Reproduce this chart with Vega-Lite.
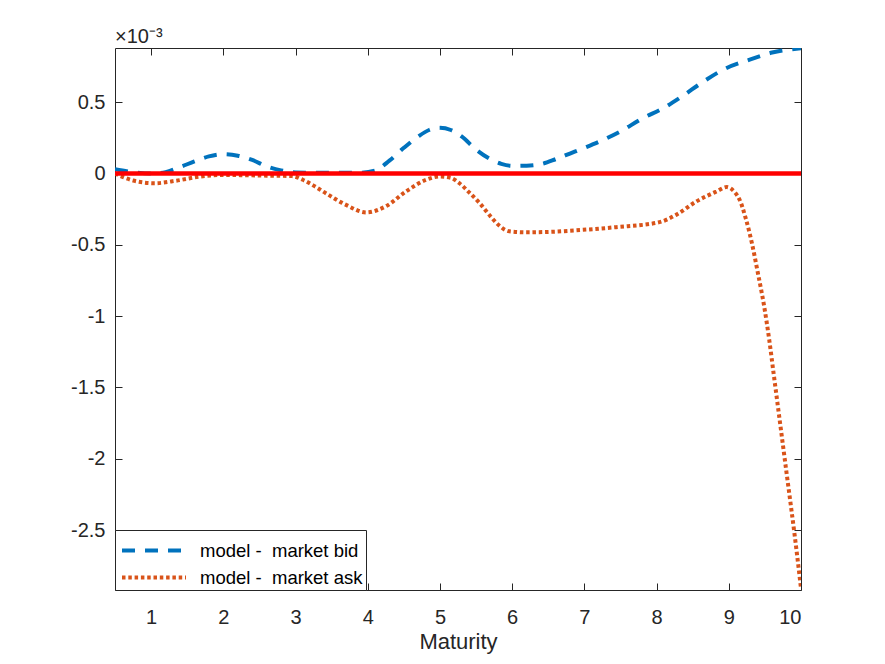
{
  "$schema": "https://vega.github.io/schema/vega-lite/v6.json",
  "width": 686,
  "height": 542,
  "autosize": {"type": "none"},
  "padding": {"left": 115, "top": 48, "right": 84, "bottom": 74},
  "background": "white",
  "title": {
    "text": "×10⁻³",
    "anchor": "start",
    "frame": "group",
    "fontSize": 20,
    "fontWeight": "normal",
    "font": "Liberation Sans",
    "color": "#262626",
    "baseline": "alphabetic",
    "offset": -15
  },
  "datasets": {
    "curves": [
      {"maturity": 0.5, "diff": 0.03, "series": "model -\u00a0 market bid"},
      {"maturity": 0.75, "diff": 0.01, "series": "model -\u00a0 market bid"},
      {"maturity": 1.0, "diff": 0.0, "series": "model -\u00a0 market bid"},
      {"maturity": 1.2, "diff": 0.01, "series": "model -\u00a0 market bid"},
      {"maturity": 1.4, "diff": 0.045, "series": "model -\u00a0 market bid"},
      {"maturity": 1.6, "diff": 0.085, "series": "model -\u00a0 market bid"},
      {"maturity": 1.8, "diff": 0.12, "series": "model -\u00a0 market bid"},
      {"maturity": 2.0, "diff": 0.136, "series": "model -\u00a0 market bid"},
      {"maturity": 2.2, "diff": 0.125, "series": "model -\u00a0 market bid"},
      {"maturity": 2.4, "diff": 0.095, "series": "model -\u00a0 market bid"},
      {"maturity": 2.6, "diff": 0.05, "series": "model -\u00a0 market bid"},
      {"maturity": 2.8, "diff": 0.022, "series": "model -\u00a0 market bid"},
      {"maturity": 3.0, "diff": 0.008, "series": "model -\u00a0 market bid"},
      {"maturity": 3.3, "diff": 0.005, "series": "model -\u00a0 market bid"},
      {"maturity": 3.6, "diff": 0.005, "series": "model -\u00a0 market bid"},
      {"maturity": 3.9, "diff": 0.006, "series": "model -\u00a0 market bid"},
      {"maturity": 4.1, "diff": 0.02, "series": "model -\u00a0 market bid"},
      {"maturity": 4.3, "diff": 0.09, "series": "model -\u00a0 market bid"},
      {"maturity": 4.5, "diff": 0.18, "series": "model -\u00a0 market bid"},
      {"maturity": 4.7, "diff": 0.26, "series": "model -\u00a0 market bid"},
      {"maturity": 4.85, "diff": 0.305, "series": "model -\u00a0 market bid"},
      {"maturity": 5.0, "diff": 0.32, "series": "model -\u00a0 market bid"},
      {"maturity": 5.15, "diff": 0.305, "series": "model -\u00a0 market bid"},
      {"maturity": 5.3, "diff": 0.26, "series": "model -\u00a0 market bid"},
      {"maturity": 5.5, "diff": 0.168, "series": "model -\u00a0 market bid"},
      {"maturity": 5.7, "diff": 0.1, "series": "model -\u00a0 market bid"},
      {"maturity": 5.85, "diff": 0.068, "series": "model -\u00a0 market bid"},
      {"maturity": 6.0, "diff": 0.054, "series": "model -\u00a0 market bid"},
      {"maturity": 6.2, "diff": 0.055, "series": "model -\u00a0 market bid"},
      {"maturity": 6.4, "diff": 0.066, "series": "model -\u00a0 market bid"},
      {"maturity": 6.6, "diff": 0.1, "series": "model -\u00a0 market bid"},
      {"maturity": 6.8, "diff": 0.14, "series": "model -\u00a0 market bid"},
      {"maturity": 7.0, "diff": 0.18, "series": "model -\u00a0 market bid"},
      {"maturity": 7.2, "diff": 0.222, "series": "model -\u00a0 market bid"},
      {"maturity": 7.5, "diff": 0.295, "series": "model -\u00a0 market bid"},
      {"maturity": 7.8, "diff": 0.385, "series": "model -\u00a0 market bid"},
      {"maturity": 8.1, "diff": 0.46, "series": "model -\u00a0 market bid"},
      {"maturity": 8.35, "diff": 0.54, "series": "model -\u00a0 market bid"},
      {"maturity": 8.65, "diff": 0.645, "series": "model -\u00a0 market bid"},
      {"maturity": 8.95, "diff": 0.735, "series": "model -\u00a0 market bid"},
      {"maturity": 9.3, "diff": 0.8, "series": "model -\u00a0 market bid"},
      {"maturity": 9.6, "diff": 0.848, "series": "model -\u00a0 market bid"},
      {"maturity": 10.0, "diff": 0.878, "series": "model -\u00a0 market bid"},
      {"maturity": 0.5, "diff": 0.0, "series": "model -\u00a0 market ask"},
      {"maturity": 0.75, "diff": -0.049, "series": "model -\u00a0 market ask"},
      {"maturity": 1.05, "diff": -0.068, "series": "model -\u00a0 market ask"},
      {"maturity": 1.35, "diff": -0.05, "series": "model -\u00a0 market ask"},
      {"maturity": 1.67, "diff": -0.022, "series": "model -\u00a0 market ask"},
      {"maturity": 2.0, "diff": -0.01, "series": "model -\u00a0 market ask"},
      {"maturity": 2.3, "diff": -0.012, "series": "model -\u00a0 market ask"},
      {"maturity": 2.6, "diff": -0.015, "series": "model -\u00a0 market ask"},
      {"maturity": 2.95, "diff": -0.018, "series": "model -\u00a0 market ask"},
      {"maturity": 3.1, "diff": -0.044, "series": "model -\u00a0 market ask"},
      {"maturity": 3.25, "diff": -0.085, "series": "model -\u00a0 market ask"},
      {"maturity": 3.42, "diff": -0.138, "series": "model -\u00a0 market ask"},
      {"maturity": 3.7, "diff": -0.22, "series": "model -\u00a0 market ask"},
      {"maturity": 3.98, "diff": -0.273, "series": "model -\u00a0 market ask"},
      {"maturity": 4.25, "diff": -0.23, "series": "model -\u00a0 market ask"},
      {"maturity": 4.53, "diff": -0.126, "series": "model -\u00a0 market ask"},
      {"maturity": 4.81, "diff": -0.044, "series": "model -\u00a0 market ask"},
      {"maturity": 5.0, "diff": -0.021, "series": "model -\u00a0 market ask"},
      {"maturity": 5.15, "diff": -0.03, "series": "model -\u00a0 market ask"},
      {"maturity": 5.27, "diff": -0.068, "series": "model -\u00a0 market ask"},
      {"maturity": 5.4, "diff": -0.13, "series": "model -\u00a0 market ask"},
      {"maturity": 5.55, "diff": -0.208, "series": "model -\u00a0 market ask"},
      {"maturity": 5.7, "diff": -0.3, "series": "model -\u00a0 market ask"},
      {"maturity": 5.82, "diff": -0.365, "series": "model -\u00a0 market ask"},
      {"maturity": 5.96, "diff": -0.405, "series": "model -\u00a0 market ask"},
      {"maturity": 6.2, "diff": -0.412, "series": "model -\u00a0 market ask"},
      {"maturity": 6.52, "diff": -0.409, "series": "model -\u00a0 market ask"},
      {"maturity": 6.98, "diff": -0.395, "series": "model -\u00a0 market ask"},
      {"maturity": 7.44, "diff": -0.376, "series": "model -\u00a0 market ask"},
      {"maturity": 8.04, "diff": -0.341, "series": "model -\u00a0 market ask"},
      {"maturity": 8.27, "diff": -0.29, "series": "model -\u00a0 market ask"},
      {"maturity": 8.55, "diff": -0.196, "series": "model -\u00a0 market ask"},
      {"maturity": 8.83, "diff": -0.126, "series": "model -\u00a0 market ask"},
      {"maturity": 8.97, "diff": -0.095, "series": "model -\u00a0 market ask"},
      {"maturity": 9.08, "diff": -0.13, "series": "model -\u00a0 market ask"},
      {"maturity": 9.15, "diff": -0.184, "series": "model -\u00a0 market ask"},
      {"maturity": 9.24, "diff": -0.324, "series": "model -\u00a0 market ask"},
      {"maturity": 9.32, "diff": -0.488, "series": "model -\u00a0 market ask"},
      {"maturity": 9.4, "diff": -0.69, "series": "model -\u00a0 market ask"},
      {"maturity": 9.49, "diff": -0.932, "series": "model -\u00a0 market ask"},
      {"maturity": 9.56, "diff": -1.165, "series": "model -\u00a0 market ask"},
      {"maturity": 9.62, "diff": -1.399, "series": "model -\u00a0 market ask"},
      {"maturity": 9.68, "diff": -1.633, "series": "model -\u00a0 market ask"},
      {"maturity": 9.74, "diff": -1.866, "series": "model -\u00a0 market ask"},
      {"maturity": 9.8, "diff": -2.1, "series": "model -\u00a0 market ask"},
      {"maturity": 9.86, "diff": -2.33, "series": "model -\u00a0 market ask"},
      {"maturity": 9.92, "diff": -2.567, "series": "model -\u00a0 market ask"},
      {"maturity": 10.0, "diff": -2.91, "series": "model -\u00a0 market ask"}
    ],
    "zero": [
      {"maturity": 0.5, "diff": 0},
      {"maturity": 10, "diff": 0}
    ]
  },
  "layer": [
    {
      "data": {"name": "curves"},
      "mark": {"type": "line", "interpolate": "monotone", "clip": true},
      "encoding": {
        "x": {
          "field": "maturity",
          "type": "quantitative",
          "scale": {"domain": [0.5, 10], "nice": false, "zero": false},
          "axis": {
            "orient": "bottom",
            "title": "Maturity",
            "values": [1, 2, 3, 4, 5, 6, 7, 8, 9, 10],
            "labelPadding": 24,
            "titlePadding": 4
          }
        },
        "y": {
          "field": "diff",
          "type": "quantitative",
          "scale": {"domain": [-2.92, 0.88], "nice": false, "zero": false},
          "axis": {
            "orient": "left",
            "title": null,
            "values": [-2.5, -2, -1.5, -1, -0.5, 0, 0.5],
            "labelExpr": "'' + datum.value",
            "labelPadding": 17
          }
        },
        "color": {
          "field": "series",
          "type": "nominal",
          "sort": null,
          "scale": {
            "domain": ["model -\u00a0 market bid", "model -\u00a0 market ask"],
            "range": ["#0072BD", "#D95319"]
          },
          "legend": {"title": null}
        },
        "strokeDash": {
          "field": "series",
          "type": "nominal",
          "sort": null,
          "scale": {
            "domain": ["model -\u00a0 market bid", "model -\u00a0 market ask"],
            "range": [[13, 10], [3.5, 2.8]]
          },
          "legend": {"title": null}
        },
        "strokeWidth": {"value": 4}
      }
    },
    {
      "data": {"name": "zero"},
      "mark": {"type": "line", "color": "#FF0000", "strokeWidth": 4.5},
      "encoding": {
        "x": {
          "field": "maturity",
          "type": "quantitative",
          "axis": {
            "orient": "top",
            "title": null,
            "labels": false,
            "minExtent": 0,
            "maxExtent": 0,
            "values": [1, 2, 3, 4, 5, 6, 7, 8, 9, 10]
          }
        },
        "y": {
          "field": "diff",
          "type": "quantitative",
          "axis": {
            "orient": "right",
            "title": null,
            "labels": false,
            "minExtent": 0,
            "maxExtent": 0,
            "values": [-2.5, -2, -1.5, -1, -0.5, 0, 0.5]
          }
        }
      }
    }
  ],
  "resolve": {"axis": {"x": "independent", "y": "independent"}},
  "config": {
    "font": "Liberation Sans",
    "view": {"stroke": "#262626", "strokeWidth": 1},
    "axis": {
      "domain": false,
      "grid": false,
      "tickSize": -7,
      "tickColor": "#262626",
      "tickWidth": 1,
      "labelFont": "Liberation Sans",
      "labelFontSize": 20,
      "labelColor": "#262626",
      "titleFont": "Liberation Sans",
      "titleFontSize": 22,
      "titleFontWeight": "normal",
      "titleColor": "#262626"
    },
    "legend": {
      "orient": "bottom-left",
      "offset": 0,
      "strokeColor": "#262626",
      "fillColor": "white",
      "padding": 3,
      "symbolType": "M-0.871,0H3.258",
      "symbolSize": 961,
      "symbolStrokeWidth": 4,
      "labelFont": "Liberation Sans",
      "labelFontSize": 18.5,
      "labelColor": "#000000",
      "labelOffset": 47,
      "rowPadding": -1.5,
      "labelLimit": 400
    }
  }
}
